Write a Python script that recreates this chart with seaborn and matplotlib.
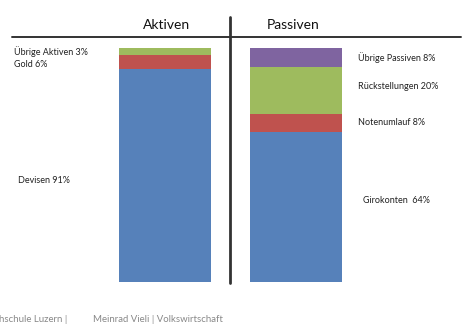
import matplotlib
matplotlib.use("Agg")
import matplotlib.pyplot as plt
import seaborn as sns
import pandas as pd
from matplotlib.lines import Line2D

# ---- data ----
sides = ["Aktiven", "Passiven"]
aktiven_labels = ["Devisen 91%", "Gold 6%", "Übrige Aktiven 3%"]
aktiven_values = [91, 6, 3]
passiven_labels = ["Girokonten  64%", "Notenumlauf 8%", "Rückstellungen 20%", "Übrige Passiven 8%"]
passiven_values = [64, 8, 20, 8]
footer_left = "hschule Luzern |"
footer_right = "Meinrad Vieli | Volkswirtschaft"

layer_colors = ["#5681BA", "#BF524E", "#9EBB5E", "#7F64A0"]

sns.set_style("white")
plt.rcParams['font.family'] = ['Lato', 'DejaVu Sans']

W, H = 474, 324
fig = plt.figure(figsize=(W / 100, H / 100), dpi=100)
ax = fig.add_axes([0, 0, 1, 1])

# build stacked layers (cumulative heights drawn from top layer down)
rows = []
for side, vals in zip(sides, [aktiven_values, passiven_values]):
    cum = 0
    for i, v in enumerate(vals):
        cum += v
        rows.append({"side": side, "layer": i, "cum": cum})
df = pd.DataFrame(rows)

bar_w = 92 / 131
for layer in sorted(df["layer"].unique(), reverse=True):
    sub = df[df["layer"] == layer]
    sns.barplot(data=sub, x="side", y="cum", order=sides, color=layer_colors[layer],
                width=bar_w, saturation=1, ax=ax, linewidth=0, errorbar=None)

# axis limits so that bars sit where the reference has them
px_per_x = 131.0
x0_px = 165.0
ax.set_xlim(-x0_px / px_per_x, (W - x0_px) / px_per_x)
px_per_y = 234 / 100
y0_px = 282.0
ax.set_ylim(-(H - y0_px) / px_per_y, y0_px / px_per_y)
ax.axis("off")

def ax_from_px(x, y):
    return x / W, 1 - y / H

# structure lines
fig.add_artist(Line2D([12 / W, 461 / W], [1 - 37 / H, 1 - 37 / H], color="#333333", lw=1.4))
fig.add_artist(Line2D([230 / W, 230 / W], [1 - 17 / H, 1 - 283 / H], color="#333333", lw=2.0))

# titles
ax.text(*ax_from_px(167, 25), sides[0], transform=ax.transAxes, ha="center", va="center",
        fontsize=10, color="#111111")
ax.text(*ax_from_px(293, 25), sides[1], transform=ax.transAxes, ha="center", va="center",
        fontsize=10, color="#111111")

# segment labels (placed near segment midpoints)
lab_fs = 6.5
def mids(vals):
    out, c = [], 0
    for v in vals:
        out.append(c + v / 2)
        c += v
    return out

a_mid = mids(aktiven_values)
a_off = [-2, -1, 0]  # small adjustments in value units
a_x = [18, 14, 14]
for lab, m, o, xp in zip(aktiven_labels, a_mid, a_off, a_x):
    ax.text(xp / W, m + o, lab, transform=ax.get_yaxis_transform(), ha="left",
            va="center", fontsize=lab_fs, color="#222222")

p_mid = mids(passiven_values)
p_off = [3, 0, 1.5, 0]
p_x = [363, 358, 358, 358]
for lab, m, o, xp in zip(passiven_labels, p_mid, p_off, p_x):
    ax.text(xp / W, m + o, lab, transform=ax.get_yaxis_transform(), ha="left",
            va="center", fontsize=lab_fs, color="#222222")

# footer
ax.text(*ax_from_px(-1, 320), footer_left, transform=ax.transAxes, ha="left", va="center",
        fontsize=6.9, color="#888888")
ax.text(*ax_from_px(93, 320), footer_right, transform=ax.transAxes, ha="left", va="center",
        fontsize=6.9, color="#888888")

fig.savefig("out.png", dpi=100)
